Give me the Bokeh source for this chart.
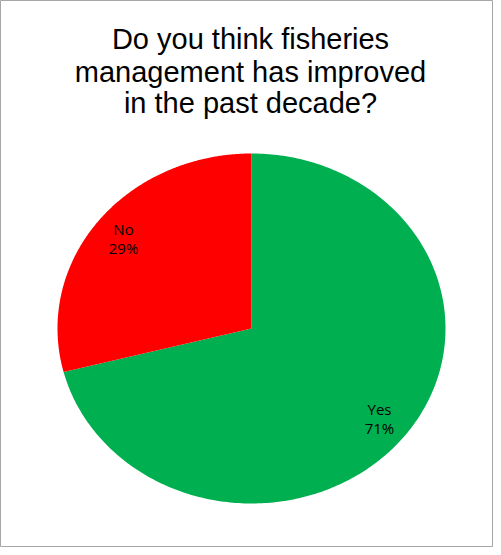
import numpy as np
from bokeh.plotting import figure
from bokeh.models import Range1d, Label, ColumnDataSource
from bokeh.embed import file_html
from bokeh.resources import INLINE
from bokeh.core.properties import value

# ---- data ----
categories = ["Yes", "No"]
percent = [71, 29]
colors = ["#00B050", "#FF0000"]
title_lines = ["Do you think fisheries", "management has improved", "in the past decade?"]

# ---- layout constants ----
W, H = 493, 547
RX, RY = 194, 175          # pie radii in pixels (chart is stretched horizontally)
CX, CY = 251, 328          # pie centre in pixels from canvas top-left
LABEL_R = 0.835

p = figure(width=W, height=H, output_backend="svg", toolbar_location=None,
           x_range=Range1d(-CX / RX, (W - CX) / RX),
           y_range=Range1d(-(H - CY) / RY, CY / RY),
           x_axis_location=None, y_axis_location=None,
           min_border=0, tools="")
p.grid.visible = False
p.outline_line_color = "#a6a6a6"
p.outline_line_width = 1
p.background_fill_color = "white"
p.border_fill_color = "white"

frac = np.array(percent, dtype=float) / np.sum(percent)
ends = np.cumsum(frac)
starts = ends - frac
a0 = np.pi / 2 - starts * 2 * np.pi
a1 = np.pi / 2 - ends * 2 * np.pi

xs, ys = [], []
for s, e in zip(a0, a1):
    th = np.linspace(s, e, 300)
    xs.append(np.concatenate([[0.0], np.cos(th)]))
    ys.append(np.concatenate([[0.0], np.sin(th)]))

src = ColumnDataSource(dict(xs=xs, ys=ys, color=colors))
p.patches("xs", "ys", source=src, fill_color="color", line_color=None)

mid = (a0 + a1) / 2
lab = ColumnDataSource(dict(
    x=LABEL_R * np.cos(mid), y=LABEL_R * np.sin(mid),
    text=[f"{c}\n{v}%" for c, v in zip(categories, percent)]))
p.text("x", "y", text="text", source=lab, text_align="center",
       text_baseline="middle", text_font=value("Open Sans"),
       text_font_size="15px", text_color="#000000", text_line_height=0.95)

title_y = [H - 38.5, H - 71, H - 102]
for t, yy in zip(title_lines, title_y):
    p.add_layout(Label(x=250, y=yy, x_units="screen", y_units="screen", text=t,
                       text_align="center", text_baseline="alphabetic",
                       text_font="Liberation Sans", text_font_size="29px",
                       text_color="#000000"))

open("out.html", "w").write(file_html(p, INLINE))
